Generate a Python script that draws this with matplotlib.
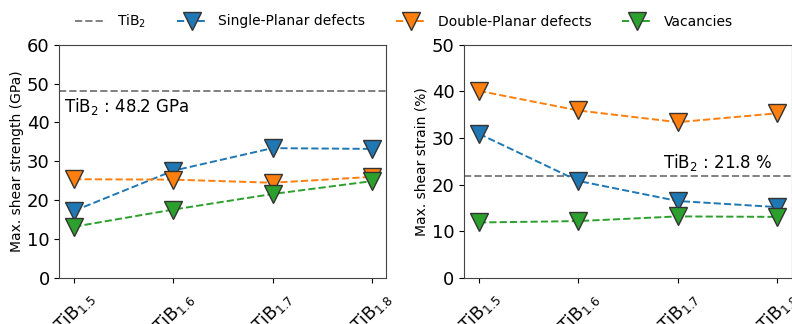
import matplotlib.pyplot as plt
import numpy as np

compositions = ["TiB$_{1.5}$", "TiB$_{1.6}$", "TiB$_{1.7}$", "TiB$_{1.8}$"]

# max shear strength (GPa)
strength_single = [17.3, 27.6, 33.4, 33.2]
strength_double = [25.4, 25.3, 24.5, 26.0]
strength_vac = [13.2, 17.6, 21.6, 24.9]
tib2_strength = 48.2

# max shear strain (%)
strain_single = [30.9, 20.8, 16.5, 15.2]
strain_double = [40.1, 35.9, 33.4, 35.3]
strain_vac = [11.9, 12.2, 13.2, 13.1]
tib2_strain = 21.8

x = np.arange(len(compositions))
mk = dict(marker="v", markersize=13, markeredgecolor="#333333", markeredgewidth=1.0,
          linestyle="--", linewidth=1.4)

fig = plt.figure(figsize=(7.92, 3.24), dpi=100)
ax1 = fig.add_axes([0.075, 0.142, 0.413, 0.72])
ax2 = fig.add_axes([0.586, 0.142, 0.414, 0.72])

# left: strength
h0 = ax1.axhline(tib2_strength, color="gray", linestyle="--", linewidth=1.4, label="TiB$_2$")
h1, = ax1.plot(x, strength_single, color="#1f77b4", label="Single-Planar defects", **mk)
h2, = ax1.plot(x, strength_double, color="#ff7f0e", label="Double-Planar defects", **mk)
h3, = ax1.plot(x, strength_vac, color="#2ca02c", label="Vacancies", **mk)
ax1.text(-0.1, tib2_strength - 1.5, "TiB$_2$ : 48.2 GPa", fontsize=12, va="top", ha="left")
ax1.set_ylim(0, 60)
ax1.set_yticks([0, 10, 20, 30, 40, 50, 60])
ax1.set_ylabel("Max. shear strength (GPa)", fontsize=10, labelpad=2)

# right: strain
ax2.axhline(tib2_strain, color="gray", linestyle="--", linewidth=1.4)
ax2.plot(x, strain_single, color="#1f77b4", **mk)
ax2.plot(x, strain_double, color="#ff7f0e", **mk)
ax2.plot(x, strain_vac, color="#2ca02c", **mk)
ax2.text(2.95, tib2_strain + 0.6, "TiB$_2$ : 21.8 %", fontsize=12, va="bottom", ha="right")
ax2.set_ylim(0, 50)
ax2.set_yticks([0, 10, 20, 30, 40, 50])
ax2.set_ylabel("Max. shear strain (%)", fontsize=10, labelpad=2)

for ax in (ax1, ax2):
    ax.set_xlim(-0.15, 3.15)
    ax.set_xticks(x)
    ax.set_xticklabels(compositions, rotation=45, fontsize=12.5)
    ax.tick_params(axis="y", labelsize=13)
    for s in ax.spines.values():
        s.set_color("#444444")

fig.legend(handles=[h0, h1, h2, h3], loc="upper center", ncol=4, frameon=False,
           bbox_to_anchor=(0.51, 1.0), fontsize=10, columnspacing=2.2, handlelength=2.2)

fig.savefig("out.png", dpi=100)
